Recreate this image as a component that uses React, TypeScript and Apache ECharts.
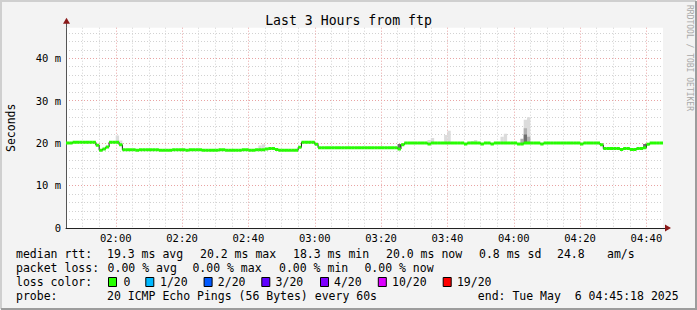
import { useEffect, useRef } from 'react';
import * as echarts from 'echarts';

// ---- data ----
const startMinute = 105; // 01:45, minutes since midnight
const medianRtt = [
  20.0, 20.0, 20.2, 20.2, 20.2, 20.2, 20.2, 20.2, 20.2, 19.5,
  18.3, 18.6, 19.1, 20.2, 20.2, 20.2, 19.6, 18.4, 18.4, 18.4,
  18.4, 18.3, 18.4, 18.4, 18.4, 18.4, 18.4, 18.4, 18.3, 18.3,
  18.3, 18.3, 18.4, 18.4, 18.4, 18.4, 18.3, 18.4, 18.4, 18.4,
  18.4, 18.3, 18.3, 18.3, 18.3, 18.3, 18.4, 18.4, 18.3, 18.3,
  18.3, 18.3, 18.3, 18.4, 18.4, 18.3, 18.3, 18.4, 18.4, 18.4,
  18.6, 18.7, 18.7, 18.5, 18.3, 18.3, 18.3, 18.3, 18.3, 18.3,
  19.0, 20.2, 20.2, 20.2, 20.2, 19.7, 18.9, 18.9, 18.9, 18.9,
  18.9, 18.9, 18.9, 18.9, 18.9, 18.9, 18.9, 18.9, 18.9, 18.9,
  18.9, 18.9, 18.9, 18.9, 18.9, 18.9, 18.9, 18.9, 18.9, 18.9,
  18.6, 19.6, 20.0, 20.0, 20.0, 20.0, 20.0, 20.0, 20.0, 19.8,
  20.0, 20.0, 20.0, 20.0, 20.0, 20.0, 20.0, 20.0, 20.0, 20.0,
  19.8, 20.0, 20.0, 20.0, 20.0, 19.8, 20.0, 20.0, 19.8, 20.0,
  20.0, 20.0, 20.0, 20.0, 20.0, 20.0, 19.8, 19.8, 20.0, 20.0,
  20.0, 20.0, 20.0, 19.8, 20.0, 20.0, 20.0, 20.0, 20.0, 20.0,
  20.0, 20.0, 20.0, 20.0, 20.0, 19.8, 20.0, 20.0, 20.0, 20.0,
  20.0, 19.6, 18.7, 18.7, 18.7, 18.7, 18.7, 18.5, 18.7, 18.7,
  18.5, 18.5, 18.7, 18.7, 18.9, 19.7, 20.0, 20.0, 20.0, 20.0,
];
// smoke bands: [minute index, low ms, high ms]
const smokeLight = [
  [15, 20.2, 21.8], [16, 19.6, 20.6], [58, 18.4, 19.4], [59, 18.4, 19.7],
  [109, 20.0, 20.7], [110, 20.0, 21.2], [114, 20.0, 21.9], [115, 20.0, 22.9],
  [122, 20.0, 20.5], [123, 20.0, 20.7], [131, 20.0, 21.5], [132, 20.0, 22.2],
  [138, 20.0, 25.5], [139, 20.0, 26.1],
];
const smokeMid = [[137, 20.0, 21.0], [138, 20.0, 23.5], [139, 20.0, 21.5]];
const smokeDark = [[138, 20.0, 22.0], [100, 18.7, 19.8], [174, 18.9, 19.8]];

const timeTickMinutes = [120, 140, 160, 180, 200, 220, 240, 260, 280];
const timeTickLabels = ['02:00', '02:20', '02:40', '03:00', '03:20', '03:40', '04:00', '04:20', '04:40'];
const yTickValues = [0, 10, 20, 30, 40];
const yTickLabels = ['0', '10 m', '20 m', '30 m', '40 m'];

const rttStats = ['19.3 ms avg', '20.2 ms max', '18.3 ms min', '20.0 ms now', '0.8 ms sd', '24.8', 'am/s'];
const lossStats = ['0.00 % avg', '0.00 % max', '0.00 % min', '0.00 % now'];
const lossLevels = ['0', '1/20', '2/20', '3/20', '4/20', '10/20', '19/20'];
const lossColors = ['#26ff00', '#00b8ff', '#0059ff', '#5e00ff', '#7e00ff', '#dd00ff', '#ff0000'];
const probeText = '20 ICMP Echo Pings (56 Bytes) every 60s';
const endText = 'end: Tue May\u00a0\u00a06 04:45:18 2025';

// ---- layout ----
const FONT = '"DejaVu Sans Mono", "Liberation Mono", monospace';
const G = { left: 66, top: 27.7, width: 597, height: 200.2 };
const rttX = [107, 200, 293, 386, 479, 557, 607];
const lossX = [107.6, 192.4, 279, 364.4];
const boxX = [108, 145.3, 203.6, 261.3, 320, 377.8, 442.7];
const boxLabelX = [123.6, 160, 217.8, 275.6, 334, 392, 456.9];
const rowY = [254, 268, 282, 296];
const LEG_FONT = 11.5;
const AXIS_FONT = 10.5;
const MINOR = '#d2d2d2';
const MAJOR = '#e9a3a3';
const GREEN = '#26ff00';

function txt(text: string, x: number, y: number, extra: any = {}) {
  return {
    type: 'text', x, y, silent: true,
    style: { text, fontFamily: FONT, fontSize: LEG_FONT, fill: '#000', verticalAlign: 'middle', align: 'left', ...extra },
  };
}

function buildOption(): any {
  const gRight = G.left + G.width;
  const gBottom = G.top + G.height;
  const medianData = medianRtt.map((v, i) => [startMinute + i, v]);
  const smokeSeries = (arr: number[][], color: string) => ({
    type: 'custom',
    clip: true,
    z: 2,
    encode: { x: 0, y: [1, 2] },
    data: arr.map((d) => [startMinute + d[0], d[1], d[2]]),
    renderItem: (_p: any, api: any) => {
      const t = api.value(0);
      const a = api.coord([t, api.value(2)]);
      const b = api.coord([t + 1, api.value(1)]);
      return { type: 'rect', shape: { x: a[0], y: a[1], width: b[0] - a[0], height: b[1] - a[1] }, style: { fill: color } };
    },
  });

  const graphic: any[] = [];
  // frame shading
  graphic.push({ type: 'polyline', silent: true, shape: { points: [[1, 309], [1, 1], [696, 1]] }, style: { stroke: '#cfcfcf', lineWidth: 2, fill: null } });
  graphic.push({ type: 'polyline', silent: true, shape: { points: [[1, 309], [696, 309], [696, 1]] }, style: { stroke: '#9c9c9c', lineWidth: 2, fill: null } });
  // axis extensions + arrows
  graphic.push({ type: 'line', silent: true, shape: { x1: G.left + 0.5, y1: G.top, x2: G.left + 0.5, y2: G.top - 5 }, style: { stroke: '#555', lineWidth: 1 } });
  graphic.push({ type: 'line', silent: true, shape: { x1: gRight, y1: Math.round(gBottom) + 0.5, x2: gRight + 4, y2: Math.round(gBottom) + 0.5 }, style: { stroke: '#222', lineWidth: 1 } });
  graphic.push({ type: 'polygon', silent: true, shape: { points: [[G.left - 3, G.top - 4], [G.left + 4, G.top - 4], [G.left + 0.5, G.top - 10]] }, style: { fill: '#8b1a1a' } });
  graphic.push({ type: 'polygon', silent: true, shape: { points: [[gRight + 2, gBottom - 3.5], [gRight + 2, gBottom + 3.5], [gRight + 8, gBottom]] }, style: { fill: '#8b1a1a' } });
  // watermark
  graphic.push({ type: 'text', x: 689, y: 5, rotation: -Math.PI / 2, silent: true, style: { text: 'RRDTOOL / TOBI OETIKER', fontFamily: FONT, fontSize: 8, fill: '#a8a8a8', align: 'left', verticalAlign: 'middle' } });
  // legend rows
  graphic.push(txt('median rtt:', 16, rowY[0]));
  rttStats.forEach((s, i) => graphic.push(txt(s, rttX[i], rowY[0])));
  graphic.push(txt('packet loss:', 16, rowY[1]));
  lossStats.forEach((s, i) => graphic.push(txt(s, lossX[i], rowY[1])));
  graphic.push(txt('loss color:', 16, rowY[2]));
  lossLevels.forEach((s, i) => {
    graphic.push({ type: 'rect', silent: true, shape: { x: boxX[i] + 0.5, y: rowY[2] - 4.5, width: 8, height: 9 }, style: { fill: lossColors[i], stroke: '#000', lineWidth: 1 } });
    graphic.push(txt(s, boxLabelX[i], rowY[2]));
  });
  graphic.push(txt('probe:', 16, rowY[3]));
  graphic.push(txt(probeText, 107, rowY[3]));
  graphic.push(txt(endText, 477.8, rowY[3]));

  return {
    animation: false,
    backgroundColor: '#f3f3f3',
    title: {
      text: 'Last 3 Hours from ftp',
      left: 'center',
      top: 13.5,
      padding: 0,
      textStyle: { fontFamily: FONT, fontSize: 13.2, fontWeight: 'normal', color: '#000' },
    },
    grid: {
      left: G.left, top: G.top, width: G.width, height: G.height,
      containLabel: false, outerBoundsMode: 'none',
      show: true, backgroundColor: '#ffffff', borderWidth: 0,
    },
    xAxis: {
      type: 'value',
      min: startMinute,
      max: startMinute + medianRtt.length,
      interval: 5,
      axisLine: { show: true, lineStyle: { color: '#222', width: 1 } },
      axisTick: { show: false },
      axisLabel: {
        margin: 5,
        fontFamily: FONT,
        fontSize: AXIS_FONT,
        color: '#000',
        formatter: (v: number) => {
          const idx = timeTickMinutes.indexOf(Math.round(v));
          return idx >= 0 && Math.abs(v - timeTickMinutes[idx]) < 1e-6 ? timeTickLabels[idx] : '';
        },
      },
      splitLine: { show: true, showMaxLine: false, lineStyle: { color: [MINOR, MINOR, MINOR, MAJOR], type: [1, 2], width: 1 } },
    },
    yAxis: {
      type: 'value',
      min: 0,
      max: 47.2,
      interval: 2,
      name: 'Seconds',
      nameLocation: 'middle',
      nameGap: 49,
      nameRotate: 90,
      nameTextStyle: { fontFamily: FONT, fontSize: LEG_FONT, color: '#000' },
      axisLine: { show: true, lineStyle: { color: '#555', width: 1 } },
      axisTick: { show: false },
      axisLabel: {
        margin: 5,
        fontFamily: FONT,
        fontSize: AXIS_FONT,
        color: '#000',
        formatter: (v: number) => {
          const idx = yTickValues.findIndex((t) => Math.abs(t - v) < 1e-6);
          return idx >= 0 ? yTickLabels[idx] : '';
        },
      },
      splitLine: { show: true, showMaxLine: false, lineStyle: { color: [MAJOR, MINOR, MINOR, MINOR, MINOR], type: [1, 2], width: 1 } },
    },
    graphic,
    series: [
      smokeSeries(smokeLight, '#dcdcdc'),
      smokeSeries(smokeMid, '#b0b0b0'),
      smokeSeries(smokeDark, '#707070'),
      {
        type: 'line',
        step: 'end',
        z: 3,
        symbol: 'none',
        data: medianData,
        lineStyle: { color: '#1a1a1a', width: 1 },
        silent: true,
      },
      {
        type: 'custom',
        name: 'median rtt',
        clip: true,
        z: 4,
        encode: { x: 0, y: 1 },
        data: medianData,
        renderItem: (_p: any, api: any) => {
          const t = api.value(0);
          const v = api.value(1);
          const a = api.coord([t, v]);
          const b = api.coord([t + 1, v]);
          return { type: 'rect', shape: { x: a[0], y: a[1] - 1.5, width: b[0] - a[0], height: 3 }, style: { fill: GREEN } };
        },
      },
    ],
  };
}

export default function App() {
  const ref = useRef<HTMLDivElement>(null);
  useEffect(() => {
    if (!ref.current) return;
    const chart = echarts.init(ref.current, null, { renderer: 'svg' });
    chart.setOption(buildOption());
    return () => chart.dispose();
  }, []);
  return <div ref={ref} style={{ position: 'absolute', left: 0, top: 0, width: 697, height: 310 }} />;
}
